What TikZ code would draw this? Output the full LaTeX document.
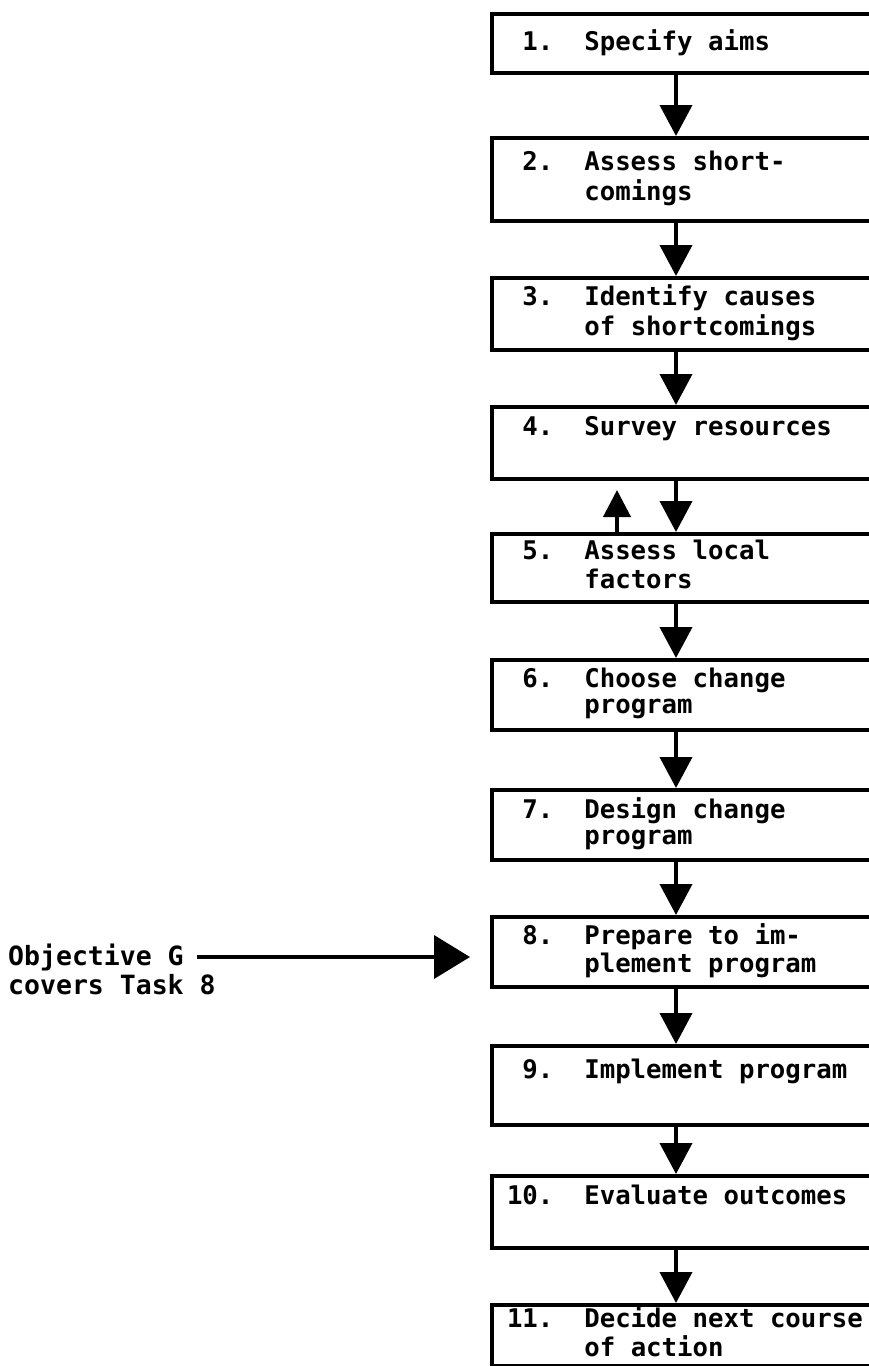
\documentclass[tikz,border=0pt]{standalone}
\usepackage{fontspec}
\setmonofont{DejaVu Sans Mono}
\usetikzlibrary{arrows.meta}

\newcommand{\tasktext}[3]{\spaceskip=0.602em\relax\strut\makebox[3.01em][l]{\makebox[1.806em][r]{#1}}#2\\\strut\hspace*{3.01em}#3}
\newcommand{\taskline}[2]{\spaceskip=0.602em\relax\strut\makebox[3.01em][l]{\makebox[1.806em][r]{#1}}#2}

\tikzset{
    task/.style={draw, line width=4pt, anchor=north west, align=left, text width=360pt,
        inner xsep=15pt, inner ysep=0pt, font=\ttfamily\bfseries\fontsize{25.7}{26}\selectfont},
    flow/.style={line width=4pt, -{Triangle[length=31pt,width=32pt]}},
    backflow/.style={line width=4pt, -{Triangle[length=27pt,width=27pt]}},
    pointer/.style={line width=4pt, -{Triangle[length=36pt,width=43pt]}},
}

\begin{document}
\begin{tikzpicture}[x=1pt,y=-1pt]
    \useasboundingbox (0,0) rectangle (868,1366);

    \coordinate (axis) at (676,0);
    \coordinate (upaxis) at (617,0);

    \node[task, minimum height=59pt] (task1) at (490,12) {\taskline{1.}{Specify aims}};
    \node[task, minimum height=83pt] (task2) at (490,136) {\tasktext{2.}{Assess short-}{comings}};
    \node[task, minimum height=72pt] (task3) at (490,276) {\tasktext{3.}{Identify causes}{of shortcomings}};
    \node[task, minimum height=72pt] (task4) at (490,405) {\tasktext{4.}{Survey resources}{}};
    \node[task, minimum height=68pt] (task5) at (490,532) {\tasktext{5.}{Assess local}{factors}};
    \node[task, minimum height=70pt] (task6) at (490,658) {\tasktext{6.}{Choose change}{program}};
    \node[task, minimum height=70pt] (task7) at (490,788) {\tasktext{7.}{Design change}{program}};
    \node[task, minimum height=70pt] (task8) at (490,915) {\tasktext{8.}{Prepare to im-}{plement program}};
    \node[task, minimum height=79pt] (task9) at (490,1044) {\tasktext{9.}{Implement program}{}};
    \node[task, minimum height=72pt] (task10) at (490,1174) {\tasktext{10.}{Evaluate outcomes}{}};
    \node[task, minimum height=61pt] (task11) at (490,1303) {\tasktext{11.}{Decide next course}{of action}};

    \draw[flow] (axis |- task1.south) -- (axis |- task2.north);
    \draw[flow] (axis |- task2.south) -- (axis |- task3.north);
    \draw[flow] (axis |- task3.south) -- (axis |- task4.north);
    \draw[flow] (axis |- task4.south) -- (axis |- task5.north);
    \draw[backflow, shorten >=9pt] (upaxis |- task5.north) -- (upaxis |- task4.south);
    \draw[flow] (axis |- task5.south) -- (axis |- task6.north);
    \draw[flow] (axis |- task6.south) -- (axis |- task7.north);
    \draw[flow] (axis |- task7.south) -- (axis |- task8.north);
    \draw[flow] (axis |- task8.south) -- (axis |- task9.north);
    \draw[flow] (axis |- task9.south) -- (axis |- task10.north);
    \draw[flow] (axis |- task10.south) -- (axis |- task11.north);

    % objective note pointing at task 8
    \node[anchor=west, align=left, inner sep=0pt, font=\ttfamily\bfseries\fontsize{26.5}{26}\selectfont]
        (objective) at (8,973) {\strut Objective G\\\strut covers Task 8};
    \coordinate (objtail) at (197,957);
    \draw[pointer, shorten >=20pt] (objtail) -- (objtail -| task8.west);
\end{tikzpicture}
\end{document}
